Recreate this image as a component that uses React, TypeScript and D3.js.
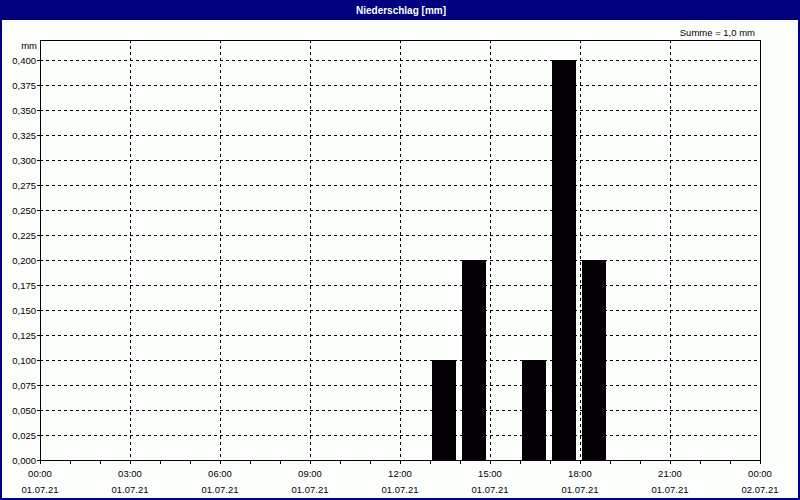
import React from "react";
import * as d3 from "d3";

const title = "Niederschlag [mm]";
const sumLabel = "Summe = 1,0 mm";
const unitLabel = "mm";
const barHours = [13, 14, 16, 17, 18];
const barValues = [0.1, 0.2, 0.1, 0.4, 0.2];
const yTicks = [0, 0.025, 0.05, 0.075, 0.1, 0.125, 0.15, 0.175, 0.2, 0.225, 0.25, 0.275, 0.3, 0.325, 0.35, 0.375, 0.4];
const xMajor = [0, 3, 6, 9, 12, 15, 18, 21, 24];
const xTimeLabels = ["00:00", "03:00", "06:00", "09:00", "12:00", "15:00", "18:00", "21:00", "00:00"];
const xDateLabels = ["01.07.21", "01.07.21", "01.07.21", "01.07.21", "01.07.21", "01.07.21", "01.07.21", "01.07.21", "02.07.21"];
const xMinor = d3.range(0, 25);

const W = 800, H = 500;
const L = 40, R = 760, T = 40, B = 460;
const navy = "#000080";
const bg = "#fcfefc";
const font = "'Liberation Sans', Arial, sans-serif";

export default function App() {
  const x = d3.scaleLinear().domain([0, 24]).range([L, R]);
  const y = d3.scaleLinear().domain([0, 0.42]).range([B, T]);
  const fmt = (v: number) => d3.format(".3f")(v).replace(".", ",");
  return (
    <svg width={W} height={H} style={{ position: "absolute", left: 0, top: 0 }} fontFamily={font}>
      <rect x={0} y={0} width={W} height={H} fill={navy} />
      <rect x={2} y={20} width={W - 4} height={H - 22} fill={bg} />
      <text x={401} y={14} fill="#fff" fontWeight="bold" fontSize={10} textAnchor="middle">{title}</text>
      <text x={755} y={35.5} fontSize={9.5} textAnchor="end" fill="#000">{sumLabel}</text>
      <text x={37} y={49} fontSize={9.5} textAnchor="end" fill="#000">{unitLabel}</text>
      {/* horizontal grid */}
      {yTicks.map((v, i) => (
        <g key={"y" + i}>
          {v > 0 && (
            <line x1={L} x2={R} y1={Math.round(y(v)) + 0.5} y2={Math.round(y(v)) + 0.5} stroke="#000" strokeDasharray="3,3" shapeRendering="crispEdges" />
          )}
          <line x1={L - 3} x2={L} y1={Math.round(y(v)) + 0.5} y2={Math.round(y(v)) + 0.5} stroke="#000" shapeRendering="crispEdges" />
          <text x={36} y={y(v) + 3.5} fontSize={9.5} textAnchor="end" fill="#000">{fmt(v)}</text>
        </g>
      ))}
      {/* vertical grid */}
      {xMajor.filter(h => h > 0 && h < 24).map(h => (
        <line key={"vx" + h} x1={x(h) + 0.5} x2={x(h) + 0.5} y1={T} y2={B} stroke="#000" strokeDasharray="3,3" shapeRendering="crispEdges" />
      ))}
      {xMinor.map(h => (
        <line key={"t" + h} x1={x(h) + 0.5} x2={x(h) + 0.5} y1={B} y2={B + 4} stroke="#000" shapeRendering="crispEdges" />
      ))}
      {/* bars */}
      {barHours.map((h, i) => (
        <rect key={"b" + i} x={x(h) + 2} width={x(h + 1) - x(h) - 6} y={y(barValues[i])} height={B - y(barValues[i])} fill="#040006" />
      ))}
      {/* frame */}
      <rect x={L + 0.5} y={T + 0.5} width={R - L} height={B - T} fill="none" stroke="#000" shapeRendering="crispEdges" />
      {xMajor.map((h, i) => (
        <g key={"xl" + i}>
          <text x={x(h)} y={477} fontSize={9.5} textAnchor="middle" fill="#000">{xTimeLabels[i]}</text>
          <text x={x(h)} y={493} fontSize={9.5} textAnchor="middle" fill="#000">{xDateLabels[i]}</text>
        </g>
      ))}
    </svg>
  );
}
